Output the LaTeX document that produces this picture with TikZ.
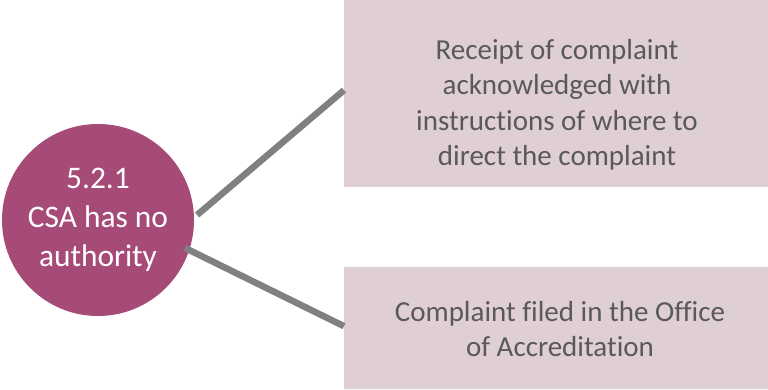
\documentclass[tikz,border=0pt]{standalone}
\usepackage{fontspec}
\setmainfont{Carlito}[Ligatures=NoCommon]
\definecolor{circfill}{HTML}{A64A77}
\definecolor{boxfill}{HTML}{E0CED6}
\definecolor{boxtext}{HTML}{595959}
\definecolor{linegrey}{HTML}{808080}
\begin{document}
\begin{tikzpicture}[x=1pt,y=-1pt,
  box/.style={fill=boxfill,draw=none,inner sep=0pt,minimum width=424pt,anchor=north west},
  boxlabel/.style={text=boxtext,align=center,font=\fontsize{29}{35.5}\selectfont,inner sep=0pt},
  connector/.style={draw=linegrey,line width=6.5pt}]
\useasboundingbox (0,0) rectangle (768,389);
\node[box,minimum height=187pt] (top) at (344,0) {};
\node[box,minimum height=122pt] (bot) at (344,267) {};
\node[boxlabel] (toptext) at (557,105) {Receipt of complaint\\acknowledged with\\instructions of where to\\direct the complaint};
\node[boxlabel] (bottext) at (560,329) {Complaint filed in the Office\\of Accreditation};
\node[circle,fill=circfill,minimum size=192pt,inner sep=0pt,text=white,align=center,
  font=\fontsize{31.4}{38.8}\selectfont] (circ) at (98,220) {5.2.1\\CSA has no\\authority};
\draw[connector] ([xshift=3pt]circ.3) -- ([yshift=3.5pt]top.west);
\draw[connector] ([xshift=-6pt,yshift=-3pt]circ.-15) -- ([yshift=2pt]bot.west);
\end{tikzpicture}
\end{document}
